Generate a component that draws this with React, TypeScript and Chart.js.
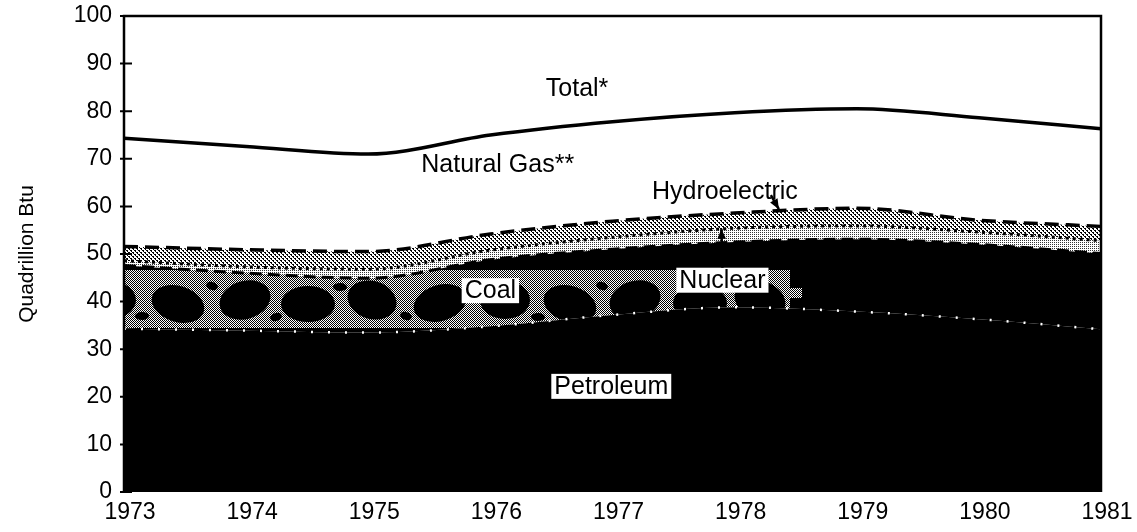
import React, { useEffect, useRef } from 'react';
import { Chart, registerables } from 'chart.js';

Chart.register(...registerables);

const years = ['1973', '1974', '1975', '1976', '1977', '1978', '1979', '1980', '1981'];
const petroleum = [34.3, 33.9, 33.5, 34.8, 37.2, 38.8, 37.9, 36.3, 34.2];
const coal = [13.3, 12.1, 11.4, 14.0, 13.8, 13.7, 15.2, 15.7, 15.9];
const nuclear = [1.0, 1.3, 1.9, 2.0, 2.5, 2.9, 2.8, 2.6, 2.7];
const hydroelectric = [3.0, 3.6, 3.7, 3.4, 3.4, 3.2, 3.7, 2.5, 3.0];
const naturalGas = [22.7, 21.7, 20.5, 20.8, 20.9, 21.1, 20.9, 21.5, 20.5];
const yTicks = [0, 10, 20, 30, 40, 50, 60, 70, 80, 90, 100];

const FONT = '"Liberation Sans", Arial, Helvetica, sans-serif';

function makeTile(w: number, h: number, draw: (g: CanvasRenderingContext2D) => void) {
  const c = document.createElement('canvas');
  c.width = w;
  c.height = h;
  const g = c.getContext('2d') as CanvasRenderingContext2D;
  draw(g);
  return c;
}

export default function App() {
  const ref = useRef<HTMLCanvasElement>(null);

  useEffect(() => {
    const canvas = ref.current as HTMLCanvasElement;
    const ctx0 = canvas.getContext('2d') as CanvasRenderingContext2D;

    const checker = makeTile(2, 2, (g) => {
      g.fillStyle = '#fff';
      g.fillRect(0, 0, 2, 2);
      g.fillStyle = '#000';
      g.fillRect(0, 0, 1, 1);
      g.fillRect(1, 1, 1, 1);
    });

    const hydroTile = makeTile(4, 4, (g) => {
      g.fillStyle = '#fff';
      g.fillRect(0, 0, 4, 4);
      g.fillStyle = '#000';
      g.fillRect(0, 0, 2, 1);
      g.fillRect(1, 1, 1, 1);
      g.fillRect(2, 2, 2, 1);
      g.fillRect(3, 3, 1, 1);
    });

    const nuclearTile = makeTile(2, 2, (g) => {
      g.fillStyle = '#fff';
      g.fillRect(0, 0, 2, 2);
      g.fillStyle = '#333';
      g.fillRect(0, 0, 1, 1);
    });

    // mottled coal texture: grey checker with irregular dark blobs
    const blobs = [
      [40, 32, 22, 17], [110, 30, 26, 19], [178, 34, 27, 18], [245, 30, 26, 19],
      [308, 34, 27, 18], [372, 30, 25, 19], [440, 33, 27, 18], [505, 30, 25, 19],
      [570, 34, 27, 18], [635, 30, 26, 19], [700, 33, 27, 18], [760, 30, 26, 19],
    ];
    const specks = [
      [75, 18, 6, 4], [142, 46, 7, 4], [212, 16, 6, 4], [276, 47, 6, 4],
      [340, 17, 7, 4], [406, 46, 6, 4], [472, 17, 6, 4], [538, 47, 7, 4],
      [602, 16, 6, 4], [668, 46, 7, 4], [730, 17, 6, 4],
    ];
    const coalTile = makeTile(1137, 90, (g) => {
      const cp = g.createPattern(checker, 'repeat') as CanvasPattern;
      g.fillStyle = cp;
      g.fillRect(0, 0, 1137, 90);
      g.fillStyle = '#000';
      blobs.concat(specks).forEach(([cx, cy, rx, ry], i) => {
        g.beginPath();
        g.ellipse(cx, cy, rx, ry, ((i % 3) - 1) * 0.3, 0, Math.PI * 2);
        g.fill();
      });
      g.fillRect(0, 58, 1137, 32);
      g.fillRect(790, 0, 347, 90);
      g.fillStyle = cp;
      g.fillRect(790, 18, 12, 10);
      g.fillRect(700, 48, 30, 10);
    });

    const hydroPattern = ctx0.createPattern(hydroTile, 'repeat');
    const nuclearPattern = ctx0.createPattern(nuclearTile, 'repeat');
    const coalPattern = ctx0.createPattern(coalTile, 'repeat');

    const overlay = {
      id: 'overlay',
      afterDatasetsDraw(chart: any) {
        const { ctx, chartArea, scales } = chart;
        const { left, right, top, bottom } = chartArea;
        const x = scales.x;
        const y = scales.y;
        ctx.save();
        ctx.strokeStyle = '#000';
        ctx.lineWidth = 2.5;
        ctx.beginPath();
        ctx.moveTo(left, bottom);
        ctx.lineTo(left, top);
        ctx.lineTo(right, top);
        ctx.lineTo(right, bottom);
        ctx.stroke();
        ctx.lineWidth = 2;
        ctx.beginPath();
        yTicks.forEach((v) => {
          const py = y.getPixelForValue(v);
          ctx.moveTo(left - 4, py);
          ctx.lineTo(left + 8, py);
        });
        ctx.stroke();

        ctx.font = '25px ' + FONT;
        ctx.textAlign = 'center';
        ctx.textBaseline = 'middle';
        const label = (text: string, xi: number, yv: number, boxed: boolean) => {
          const px = x.getPixelForValue(xi);
          const py = y.getPixelForValue(yv);
          if (boxed) {
            const w = ctx.measureText(text).width;
            ctx.fillStyle = '#fff';
            ctx.fillRect(px - w / 2 - 3, py - 12, w + 6, 25);
          }
          ctx.fillStyle = '#000';
          ctx.fillText(text, px, py + 1);
          return { px, py };
        };
        const arrow = (x1: number, y1: number, x2: number, y2: number) => {
          ctx.lineWidth = 2.5;
          ctx.beginPath();
          ctx.moveTo(x1, y1);
          ctx.lineTo(x2, y2);
          ctx.stroke();
          const a = Math.atan2(y2 - y1, x2 - x1);
          ctx.beginPath();
          ctx.moveTo(x2, y2);
          ctx.lineTo(x2 - 11 * Math.cos(a - 0.4), y2 - 11 * Math.sin(a - 0.4));
          ctx.lineTo(x2 - 11 * Math.cos(a + 0.4), y2 - 11 * Math.sin(a + 0.4));
          ctx.closePath();
          ctx.fillStyle = '#000';
          ctx.fill();
        };

        label('Total*', 3.71, 84.9, false);
        label('Natural Gas**', 3.06, 68.9, false);
        const h = label('Hydroelectric', 4.92, 63.2, false);
        arrow(h.px + 46, h.py + 4, h.px + 54, h.py + 18);
        label('Coal', 3.0, 42.4, true);
        const n = label('Nuclear', 4.9, 44.6, true);
        ctx.strokeStyle = '#000';
        arrow(n.px, n.py - 12, n.px - 1, n.py - 51);
        label('Petroleum', 3.99, 22.3, true);
        ctx.restore();
      },
    };

    const common = {
      pointRadius: 0,
      pointHoverRadius: 0,
      cubicInterpolationMode: 'monotone' as const,
    };

    const chart = new Chart(canvas, {
      type: 'line',
      data: {
        labels: years,
        datasets: [
          { ...common, label: 'Petroleum', data: petroleum, fill: 'origin', backgroundColor: '#000', borderColor: '#fff', borderWidth: 2.5, borderDash: [2, 15] },
          { ...common, label: 'Coal', data: coal, fill: '-1', backgroundColor: coalPattern as any, borderColor: '#000', borderWidth: 3, borderDash: [12, 6] },
          { ...common, label: 'Nuclear', data: nuclear, fill: '-1', backgroundColor: nuclearPattern as any, borderColor: '#000', borderWidth: 3, borderDash: [3, 4] },
          { ...common, label: 'Hydroelectric', data: hydroelectric, fill: '-1', backgroundColor: hydroPattern as any, borderColor: '#000', borderWidth: 3.5, borderDash: [14, 7] },
          { ...common, label: 'Natural Gas', data: naturalGas, fill: '-1', backgroundColor: '#fff', borderColor: '#000', borderWidth: 3.5 },
        ],
      },
      options: {
        animation: false,
        responsive: true,
        maintainAspectRatio: false,
        layout: { padding: { top: 16, right: 36, bottom: 0, left: 0 } },
        plugins: {
          legend: { display: false },
          tooltip: { enabled: false },
          filler: { drawTime: 'beforeDatasetsDraw' } as any,
        },
        scales: {
          x: {
            grid: { display: false, drawTicks: false },
            border: { display: false },
            ticks: {
              color: '#000',
              font: { family: FONT, size: 23 },
              padding: 7,
              labelOffset: 6,
              maxRotation: 0,
              autoSkip: false,
            },
            afterFit: (scale: any) => {
              scale.height = 40;
              scale.paddingLeft = 0;
              scale.paddingRight = 0;
            },
          },
          y: {
            stacked: true,
            min: 0,
            max: 100,
            grid: { display: false, drawTicks: false },
            border: { display: false },
            ticks: {
              color: '#000',
              font: { family: FONT, size: 23 },
              padding: 12,
              stepSize: 10,
            },
            title: {
              display: true,
              text: 'Quadrillion Btu',
              color: '#000',
              font: { family: FONT, size: 21 },
              padding: { top: 15, bottom: 0 },
            },
            afterFit: (scale: any) => {
              scale.width = 124;
              scale.paddingTop = 0;
              scale.paddingBottom = 0;
            },
          },
        },
      },
      plugins: [overlay],
    });

    return () => chart.destroy();
  }, []);

  return (
    <div style={{ position: 'fixed', left: 0, top: 0, width: 1137, height: 532, background: '#fff' }}>
      <canvas ref={ref} />
    </div>
  );
}
